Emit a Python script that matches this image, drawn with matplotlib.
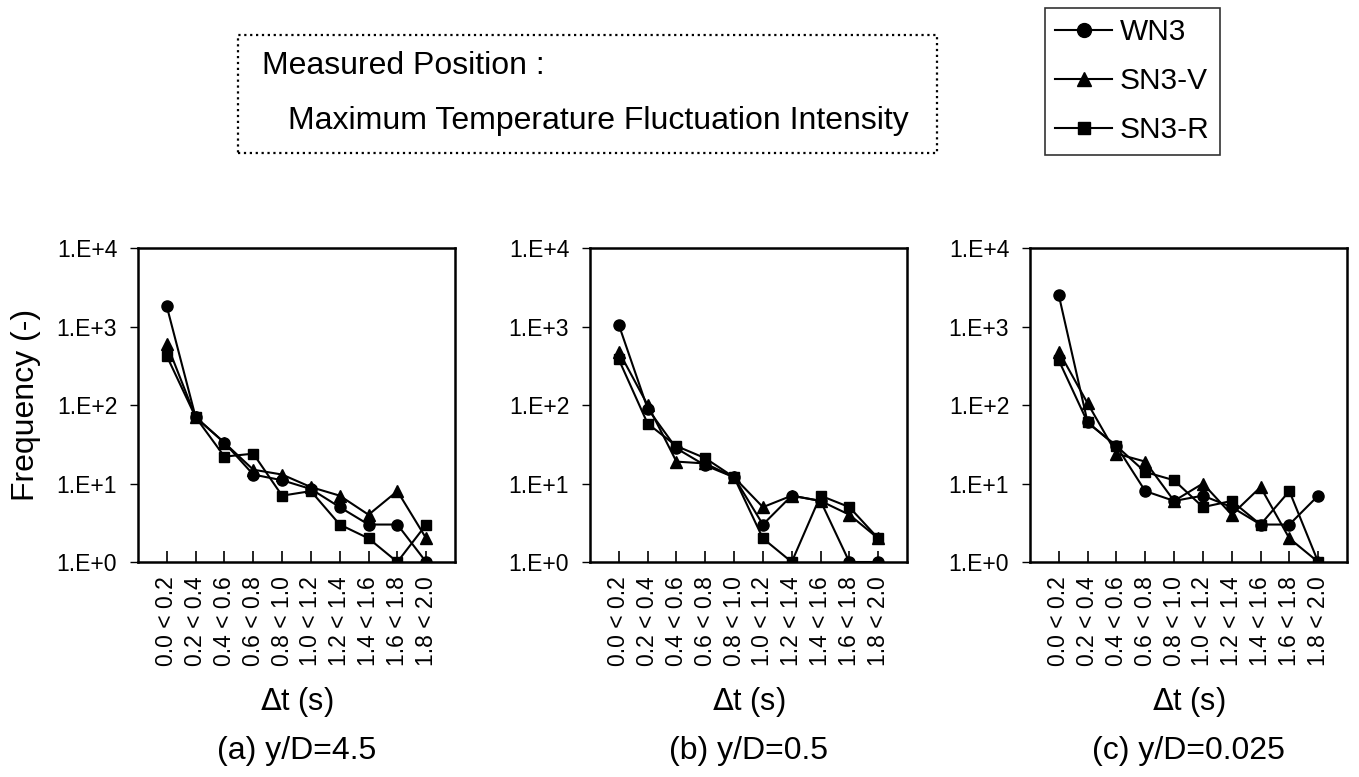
import numpy as np
import matplotlib as mpl
import matplotlib.pyplot as plt
from matplotlib.patches import Rectangle
from matplotlib.lines import Line2D

plt.rcParams['font.family'] = ['Liberation Sans', 'DejaVu Sans']

bins = ["0.0 < 0.2", "0.2 < 0.4", "0.4 < 0.6", "0.6 < 0.8", "0.8 < 1.0",
        "1.0 < 1.2", "1.2 < 1.4", "1.4 < 1.6", "1.6 < 1.8", "1.8 < 2.0"]

# (a) y/D=4.5
wn3_a = [1800, 70, 33, 13, 11, 8.5, 5, 3, 3, 1]
sn3v_a = [600, 70, 33, 15, 13, 9, 7, 4, 8, 2]
sn3r_a = [420, 70, 22, 24, 7, 8, 3, 2, 1, 3]

# (b) y/D=0.5
wn3_b = [1050, 90, 28, 17, 12, 3, 7, 6, 1, 1]
sn3v_b = [480, 100, 19, 18, 12, 5, 7, 6, 4, 2]
sn3r_b = [380, 58, 30, 21, 12, 2, 1, 7, 5, 2]

# (c) y/D=0.025
wn3_c = [2500, 60, 30, 8, 6, 7, 5, 3, 3, 7]
sn3v_c = [480, 105, 24, 19, 6, 10, 4, 9, 2, 1]
sn3r_c = [370, 60, 30, 14, 11, 5, 6, 3, 8, 1]

panels = [("(a) y/D=4.5", wn3_a, sn3v_a, sn3r_a),
          ("(b) y/D=0.5", wn3_b, sn3v_b, sn3r_b),
          ("(c) y/D=0.025", wn3_c, sn3v_c, sn3r_c)]

W, H = 1359, 777
fig = plt.figure(figsize=(W / 100, H / 100), dpi=100)

lefts = [138, 590, 1030]
width = 317
top, bottom = 248, 562

x = np.arange(len(bins))
for i, (title, wn3, sn3v, sn3r) in enumerate(panels):
    ax = fig.add_axes([lefts[i] / W, 1 - bottom / H, width / W, (bottom - top) / H])
    ax.plot(x, wn3, "-o", color="black", lw=1.5, ms=8)
    ax.plot(x, sn3v, "-^", color="black", lw=1.5, ms=8)
    ax.plot(x, sn3r, "-s", color="black", lw=1.5, ms=7.5)
    ax.set_yscale("log")
    ax.set_ylim(1, 1e4)
    ax.set_xlim(-1, 10)
    ax.set_yticks([1, 10, 100, 1000, 10000])
    ax.set_yticklabels(["1.E+0", "1.E+1", "1.E+2", "1.E+3", "1.E+4"])
    ax.yaxis.set_minor_locator(mpl.ticker.NullLocator())
    ax.set_xticks(x)
    ax.set_xticklabels(bins, rotation=90)
    ax.tick_params(axis="x", direction="in", length=8, width=1.2, labelsize=16.5, pad=10)
    ax.tick_params(axis="y", direction="out", length=6, width=1, labelsize=16.5, pad=9)
    for s in ax.spines.values():
        s.set_linewidth(1.8)
    ax.set_xlabel(r"$\Delta$t (s)", fontsize=22, labelpad=14)
    if i == 0:
        ax.set_ylabel("Frequency (-)", fontsize=23, labelpad=11)
    cx = (lefts[i] + width / 2) / W
    fig.text(cx, 1 - 751 / H, title, ha="center", va="center", fontsize=23)

# header box
fig.patches.append(Rectangle((238 / W, 1 - 153 / H), 699 / W, 118 / H,
                             transform=fig.transFigure, fill=False,
                             ls=":", lw=1.6, ec="black"))
fig.text(262 / W, 1 - 66 / H, "Measured Position :", fontsize=23, va="center")
fig.text(288 / W, 1 - 121 / H, "Maximum Temperature Fluctuation Intensity",
         fontsize=23, va="center")

# legend
handles = [Line2D([], [], color="black", marker="o", lw=1.5, ms=10),
           Line2D([], [], color="black", marker="^", lw=1.5, ms=10),
           Line2D([], [], color="black", marker="s", lw=1.5, ms=9)]
leg = fig.legend(handles, ["WN3", "SN3-V", "SN3-R"], loc="upper left",
                 bbox_to_anchor=(1045 / W, 1 - 8 / H), fontsize=21.5,
                 frameon=True, fancybox=False, edgecolor="black",
                 handlelength=1.9, handletextpad=0.25, labelspacing=0.7,
                 borderpad=0.35, borderaxespad=0)
leg.get_frame().set_linewidth(1.2)

fig.savefig("out.png", dpi=100)
